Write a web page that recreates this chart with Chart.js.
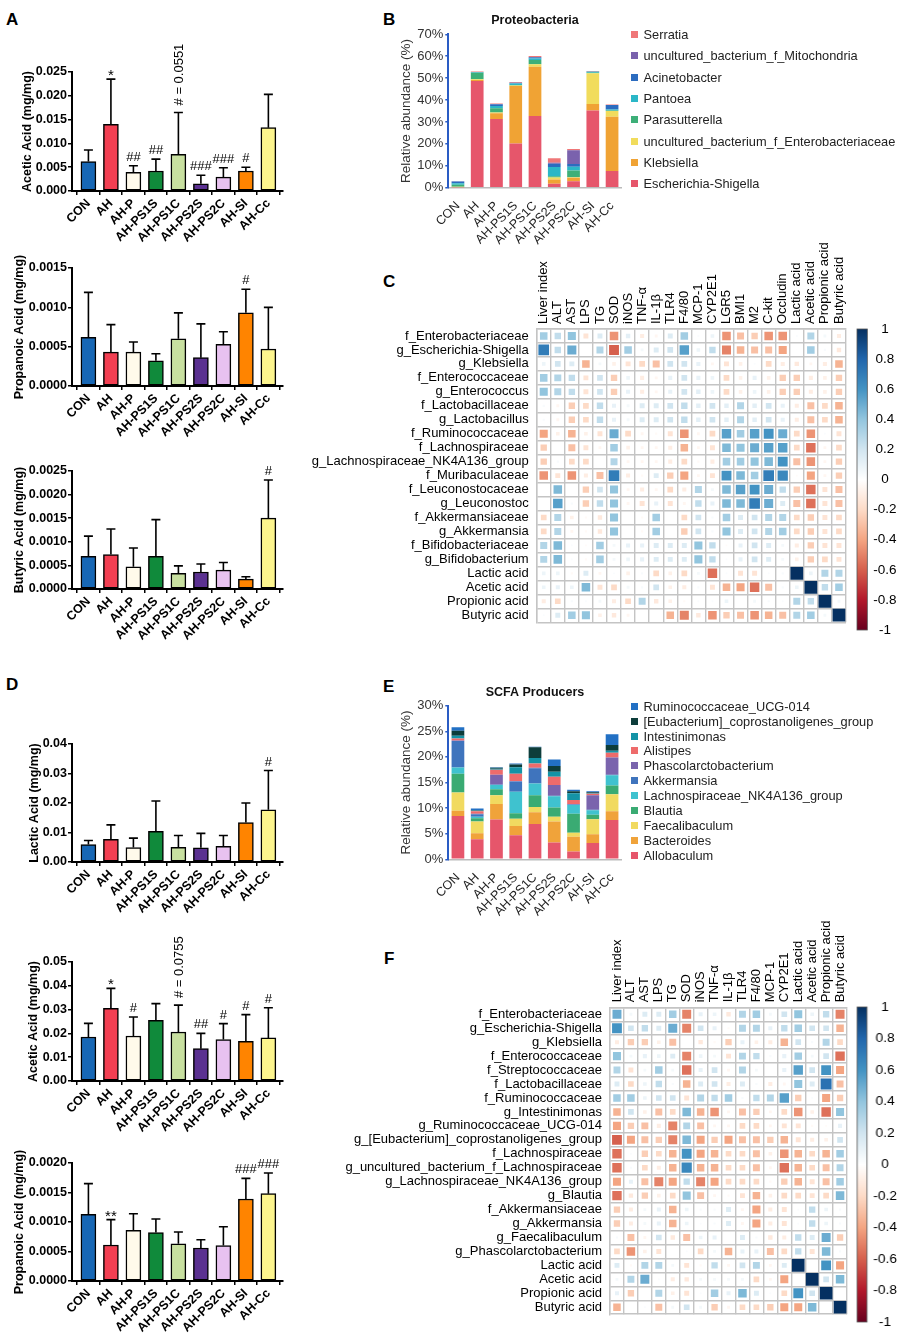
<!DOCTYPE html>
<html><head><meta charset="utf-8">
<script src="https://cdn.jsdelivr.net/npm/chart.js@4.4.1/dist/chart.umd.min.js"></script>
<style>
body{margin:0;background:#fff;}
#page{position:relative;width:899px;height:1339px;overflow:hidden;background:#fff;font-family:"Liberation Sans",Arial,Helvetica,sans-serif;}
canvas{position:absolute;}
.lab{position:absolute;font-weight:bold;font-size:17px;line-height:1;color:#000;}
.leg{position:absolute;font-size:12.8px;line-height:14px;color:#222;white-space:nowrap;}
.leg span{display:inline-block;width:7px;height:7px;margin-right:6px;vertical-align:1px;}
</style></head><body><div id="page"></div>
<script>
// ---------------- DATA ----------------
const groups = ['CON','AH','AH-P','AH-PS1S','AH-PS1C','AH-PS2S','AH-PS2C','AH-SI','AH-Cc'];
const groupColors = ['#1767b5','#f23f52','#fffaeb','#108a3b','#c8e0a0','#5b3191','#e8c2f0','#ff8400','#fdf58e'];

// Panel A
const A_acetic_mean = [0.0062,0.0140,0.0039,0.0042,0.0077,0.0015,0.0029,0.0042,0.0133];
const A_acetic_sd   = [0.0024,0.0095,0.0014,0.0025,0.0088,0.0018,0.0020,0.0008,0.0070];
const A_acetic_notes= ['','*','##','##','# = 0.0551','###','###','#',''];
const A_acetic_ticks= [0,0.005,0.010,0.015,0.020,0.025];

const A_prop_mean = [0.00062,0.00043,0.00043,0.00032,0.00060,0.00036,0.00053,0.00093,0.00047];
const A_prop_sd   = [0.00057,0.00035,0.00013,0.00009,0.00033,0.00043,0.00016,0.00030,0.00053];
const A_prop_notes= ['','','','','','','','#',''];
const A_prop_ticks= [0,0.0005,0.0010,0.0015];

const A_but_mean = [0.00069,0.00073,0.00047,0.00069,0.00033,0.00036,0.00040,0.00021,0.00150];
const A_but_sd   = [0.00043,0.00054,0.00040,0.00078,0.00016,0.00017,0.00016,0.00005,0.00081];
const A_but_notes= ['','','','','','','','','#'];
const A_but_ticks= [0,0.0005,0.0010,0.0015,0.0020,0.0025];

// Panel D
const D_lactic_mean = [0.0059,0.0077,0.0049,0.0104,0.0050,0.0048,0.0053,0.0134,0.0177];
const D_lactic_sd   = [0.0014,0.0049,0.0032,0.0103,0.0040,0.0049,0.0037,0.0066,0.0133];
const D_lactic_notes= ['','','','','','','','','#'];
const D_lactic_ticks= [0,0.01,0.02,0.03,0.04];

const D_acetic_mean = [0.0185,0.0305,0.0189,0.0255,0.0206,0.0136,0.0174,0.0167,0.0181];
const D_acetic_sd   = [0.0057,0.0084,0.0080,0.0070,0.0113,0.0064,0.0067,0.0112,0.0127];
const D_acetic_notes= ['','*','#','','# = 0.0755','##','#','#','#'];
const D_acetic_ticks= [0,0.01,0.02,0.03,0.04,0.05];

const D_prop_mean = [0.00113,0.00061,0.00086,0.00082,0.00063,0.00056,0.00060,0.00139,0.00148];
const D_prop_sd   = [0.00052,0.00043,0.00028,0.00023,0.00020,0.00014,0.00032,0.00035,0.00035];
const D_prop_notes= ['','**','','','','','','###','###'];
const D_prop_ticks= [0,0.0005,0.0010,0.0015,0.0020];

// Panel B (Proteobacteria, % relative abundance, stacked bottom -> top)
const B_Escherichia = [0.2,48.7,31.4,20.2,32.7,1.8,3.0,35.2,7.6];
const B_Klebsiella  = [0.1,0.5,2.6,26.2,22.5,1.9,1.5,3.0,24.8];
const B_uncEntero   = [0.1,0.3,0.3,0.2,1.1,0.9,0.3,14.0,2.6];
const B_Parasutterella = [1.0,3.0,2.0,0.3,2.0,0.6,3.0,0.2,0.2];
const B_Pantoea     = [0.6,0.2,1.0,0.6,0.6,4.2,1.8,0.5,0.5];
const B_Acinetobacter = [0.8,0.1,0.8,0.4,0.6,1.5,1.2,0.1,2.0];
const B_Mito        = [0.1,0.0,0.0,0.0,0.0,0.5,6.3,0.0,0.0];
const B_Serratia    = [0.1,0.2,0.3,0.3,0.6,2.0,0.6,0.3,0.3];
const B_ticks = [0,10,20,30,40,50,60,70];

// Panel E (SCFA producers)
const E_Allobaculum = [8.46,3.9,7.75,4.7,6.9,3.3,1.5,3.2,7.7];
const E_Bacteroides = [1.0,1.2,3.05,1.8,2.3,4.1,2.9,1.7,1.7];
const E_Faecalibaculum = [3.6,2.3,1.7,1.4,1.0,0.9,0.8,2.9,3.3];
const E_Blautia = [3.65,0.6,1.2,1.1,2.3,1.8,3.7,0.9,1.7];
const E_LachnoNK = [1.2,0.3,0.8,4.2,2.3,2.2,1.7,0.9,2.0];
const E_Akkermansia = [5.2,0.5,0.1,2.0,3.0,0.1,0.1,0.1,0.1];
const E_Phascolarcto = [0.1,0.1,1.9,0.1,0.1,2.1,0.1,2.8,3.4];
const E_Alistipes = [0.4,0.5,1.0,1.4,0.8,1.6,0.8,0.3,0.9];
const E_Intestinimonas = [0.5,0.1,0.2,1.3,1.1,1.0,1.3,0.1,0.4];
const E_Eubacterium = [1.0,0.1,0.2,0.5,2.1,1.1,0.4,0.2,1.1];
const E_RumUCG014 = [0.7,0.3,0.1,0.2,0.1,1.3,0.3,0.2,2.1];
const E_ticks = [0,5,10,15,20,25,30];

// Panel C correlation
const C_cols = ['Liver index','ALT','AST','LPS','TG','SOD','iNOS','TNF-α','IL-1β','TLR4','F4/80','MCP-1','CYP2E1','LGR5','BMI1','M2','C-kit','Occludin','Lactic acid','Acetic acid','Propionic acid','Butyric acid'];
const C_rows = ['f_Enterobacteriaceae','g_Escherichia-Shigella','g_Klebsiella','f_Enterococcaceae','g_Enterococcus','f_Lactobacillaceae','g_Lactobacillus','f_Ruminococcaceae','f_Lachnospiraceae','g_Lachnospiraceae_NK4A136_group','f_Muribaculaceae','f_Leuconostocaceae','g_Leuconostoc','f_Akkermansiaceae','g_Akkermansia','f_Bifidobacteriaceae','g_Bifidobacterium','Lactic acid','Acetic acid','Propionic acid','Butyric acid'];
const C_r = [
[0.35,0.25,0.4,-0.15,0.15,-0.45,0.12,-0.1,-0.05,0.15,0.35,0.02,0.08,-0.45,-0.3,-0.25,-0.45,-0.45,0.02,0.3,0.05,-0.1],
[0.7,0.25,0.5,0.0,0.3,-0.6,0.35,0.05,0.15,0.2,0.55,0.08,0.25,-0.5,-0.35,-0.3,-0.3,-0.4,0.01,0.35,0.03,-0.12],
[0.08,0.2,0.15,-0.35,0.05,-0.08,-0.15,-0.2,-0.3,0.2,0.2,0.1,-0.05,-0.15,-0.08,0.02,-0.2,-0.1,-0.12,-0.05,-0.1,-0.35],
[0.35,0.3,0.25,-0.15,0.2,-0.25,0.08,-0.1,-0.05,0.1,0.2,0.1,0.08,-0.2,-0.08,0.1,-0.08,-0.25,-0.25,-0.1,-0.08,-0.25],
[0.4,0.3,0.25,-0.15,0.2,-0.25,0.1,-0.1,-0.05,0.1,0.2,0.12,0.08,-0.2,-0.08,0.08,-0.08,-0.25,-0.25,-0.1,-0.08,-0.25],
[0.03,-0.05,-0.25,-0.2,0.25,0.1,0.05,0.15,0.15,0.2,0.25,0.12,0.2,0.12,0.3,0.12,0.2,0.1,-0.1,-0.3,-0.2,-0.35],
[0.03,-0.05,-0.25,-0.2,0.25,0.1,0.05,0.15,0.15,0.2,0.25,0.12,0.2,0.12,0.3,0.12,0.2,0.1,-0.1,-0.3,-0.2,-0.35],
[-0.4,-0.08,-0.35,-0.08,-0.15,0.5,-0.2,-0.05,-0.03,-0.15,-0.45,-0.05,-0.2,0.55,0.35,0.55,0.6,0.5,-0.2,-0.45,0.02,-0.15],
[-0.25,0.0,-0.3,-0.15,-0.05,0.35,-0.08,-0.05,-0.05,-0.1,-0.35,-0.05,-0.15,0.45,0.4,0.5,0.55,0.55,-0.2,-0.55,-0.05,-0.2],
[-0.25,0.03,-0.2,-0.2,0.0,0.3,-0.05,-0.05,-0.05,-0.1,-0.2,-0.03,-0.1,0.35,0.35,0.4,0.45,0.6,-0.3,-0.45,-0.05,-0.25],
[-0.45,-0.15,-0.45,-0.1,-0.3,0.7,-0.1,-0.03,0.15,-0.25,-0.4,-0.05,-0.15,0.6,0.45,0.35,0.7,0.65,-0.02,-0.4,-0.05,-0.25],
[0.0,0.45,0.0,-0.25,0.2,0.4,-0.05,-0.1,-0.05,-0.2,-0.1,0.3,0.05,0.45,0.55,0.6,0.5,0.25,-0.25,-0.55,-0.15,-0.3],
[0.0,0.55,0.03,-0.25,0.25,0.4,-0.05,-0.15,0.1,-0.15,-0.05,0.25,0.1,0.45,0.45,0.7,0.5,0.15,-0.3,-0.55,-0.15,-0.3],
[-0.2,0.3,-0.08,-0.03,-0.12,0.4,0.0,-0.03,0.35,0.0,-0.2,0.2,0.03,0.35,0.15,0.2,0.3,0.3,-0.2,-0.25,-0.15,-0.2],
[-0.2,0.3,-0.05,-0.03,-0.12,0.4,0.0,-0.03,0.35,0.0,-0.25,0.2,0.03,0.4,0.15,0.2,0.3,0.35,-0.2,-0.25,-0.15,-0.2],
[0.3,0.45,0.02,-0.02,0.35,0.05,0.1,0.1,0.15,0.15,0.15,0.4,0.25,-0.02,0.1,0.2,0.15,0.05,-0.1,-0.25,-0.15,-0.15],
[0.3,0.45,0.02,-0.03,0.35,0.05,0.08,0.1,0.15,0.15,0.15,0.4,0.25,0.02,0.1,0.2,0.15,0.05,-0.08,-0.25,-0.2,-0.15],
[0.08,0.08,-0.03,0.15,-0.05,0.02,-0.08,0.03,-0.2,-0.08,-0.2,0.05,-0.55,0.02,-0.15,-0.15,0.02,0.03,1,0.08,0.3,0.3],
[0.08,0.1,0.08,0.45,-0.15,-0.2,0.05,0.03,0.2,-0.08,-0.1,0.03,-0.15,-0.35,-0.4,-0.55,-0.3,0.03,0.08,1,0.25,0.35],
[-0.1,-0.2,0.03,0.02,0.05,-0.1,-0.2,0.3,-0.12,-0.08,-0.03,0.02,0.02,0.08,0.0,0.05,0.03,0.02,0.3,0.25,1,0.05],
[0.02,0.15,0.35,0.4,-0.08,-0.12,-0.05,0.0,0.0,-0.35,-0.5,-0.12,-0.45,-0.25,-0.3,-0.45,-0.35,-0.3,0.3,0.35,0.05,1]
];

// Panel F correlation
const F_cols = ['Liver index','ALT','AST','LPS','TG','SOD','iNOS','TNF-α','IL-1β','TLR4','F4/80','MCP-1','CYP2E1','Lactic acid','Acetic acid','Propionic acid','Butyric acid'];
const F_rows = ['f_Enterobacteriaceae','g_Escherichia-Shigella','g_Klebsiella','f_Enterococcaceae','f_Streptococcaceae','f_Lactobacillaceae','f_Ruminococcaceae','g_Intestinimonas','g_Ruminococcaceae_UCG-014','g_[Eubacterium]_coprostanoligenes_group','f_Lachnospiraceae','g_uncultured_bacterium_f_Lachnospiraceae','g_Lachnospiraceae_NK4A136_group','g_Blautia','f_Akkermansiaceae','g_Akkermansia','g_Faecalibaculum','g_Phascolarctobacterium','Lactic acid','Acetic acid','Propionic acid','Butyric acid'];
const F_r = [
[0.5,0.05,0.15,0.15,0.35,-0.5,0.1,0.08,-0.12,0.3,0.35,0.05,0.2,0.4,0.08,0.25,-0.5],
[0.6,0.2,0.25,0.15,0.5,-0.5,0.2,0.1,-0.03,0.3,0.3,0.1,0.25,0.35,0.2,0.2,-0.35],
[-0.1,-0.25,-0.25,-0.08,-0.3,0.0,-0.12,-0.03,-0.25,0.1,-0.08,-0.1,-0.35,0.2,0.03,0.3,-0.2],
[0.4,0.05,0.1,0.08,0.15,-0.5,0.08,0.05,-0.15,0.3,0.25,0.03,0.1,0.35,0.05,0.2,-0.55],
[0.3,-0.15,0.05,0.35,0.05,-0.55,0.1,0.2,-0.05,0.3,0.05,0.0,0.1,0.55,0.2,0.6,-0.4],
[0.15,-0.2,0.08,0.25,0.03,-0.35,0.15,0.2,-0.1,0.15,0.03,-0.1,-0.05,0.4,0.15,0.75,-0.3],
[0.35,0.35,0.08,0.2,0.2,-0.15,0.3,0.25,0.35,0.03,0.25,0.3,0.55,-0.25,0.02,-0.4,-0.25],
[-0.35,0.2,-0.08,-0.3,-0.2,0.45,-0.35,-0.45,-0.05,-0.3,-0.25,-0.05,-0.2,-0.45,-0.08,-0.55,0.4],
[-0.4,-0.25,-0.3,-0.1,-0.5,0.3,-0.3,-0.05,-0.05,-0.2,-0.2,-0.05,-0.15,-0.15,-0.03,-0.02,0.1],
[-0.6,-0.4,-0.3,-0.25,-0.5,0.45,-0.4,-0.25,-0.4,-0.3,-0.3,-0.25,-0.35,-0.15,-0.1,-0.08,0.2],
[-0.55,0.02,-0.25,-0.2,-0.35,0.6,-0.4,-0.35,-0.2,-0.2,-0.3,-0.08,-0.45,-0.35,-0.2,-0.35,0.35],
[-0.55,0.03,-0.2,-0.1,-0.35,0.65,-0.35,-0.35,-0.2,-0.2,-0.3,-0.05,-0.55,-0.35,-0.2,-0.3,0.3],
[-0.4,0.1,-0.3,-0.5,-0.4,0.25,-0.5,-0.4,-0.2,-0.2,-0.2,-0.03,-0.25,-0.35,-0.15,-0.3,0.35],
[-0.55,-0.12,-0.25,-0.08,-0.2,0.4,-0.3,-0.05,-0.03,-0.15,-0.35,-0.08,-0.2,-0.2,-0.15,-0.2,0.45],
[-0.25,-0.1,0.05,0.1,-0.35,0.08,0.03,0.03,0.15,-0.05,-0.4,-0.1,-0.15,0.02,0.25,0.08,0.03],
[-0.25,-0.1,0.05,0.1,-0.35,0.08,0.02,0.03,0.15,-0.05,-0.4,-0.1,-0.15,0.02,0.25,0.08,0.03],
[0.03,-0.3,-0.05,0.2,-0.12,-0.3,0.08,0.1,0.0,0.15,0.03,-0.12,-0.1,0.25,0.15,0.5,-0.25],
[-0.2,-0.45,-0.08,-0.15,0.0,0.02,-0.2,0.05,-0.35,0.1,0.1,-0.3,-0.2,0.25,-0.15,0.45,0.03],
[0.15,-0.03,0.3,0.3,0.05,-0.15,-0.03,0.25,-0.05,0.2,0.3,-0.05,0.15,1,0.0,0.6,-0.4],
[0.05,0.3,0.5,0.02,-0.1,-0.12,0.05,0.05,0.05,0.05,-0.2,-0.05,-0.4,0.0,1,0.2,0.45],
[0.1,-0.25,0.0,0.3,-0.08,-0.15,0.02,0.35,0.1,0.45,0.15,0.02,-0.2,0.6,0.2,1,0.0],
[-0.35,0.0,0.02,-0.3,0.05,0.2,0.05,-0.25,-0.05,-0.2,-0.2,-0.25,-0.4,-0.4,0.45,0.0,1]
];
const colorbar_ticks = [1,0.8,0.6,0.4,0.2,0,-0.2,-0.4,-0.6,-0.8,-1];

// ---------------- RENDERING ----------------
const FF = '"Liberation Sans", Arial, Helvetica, sans-serif';
Chart.defaults.font.family = FF;
Chart.defaults.color = '#000';
Chart.defaults.animation = false;
Chart.defaults.responsive = false;
Chart.defaults.events = [];
Chart.defaults.plugins.legend.display = false;
Chart.defaults.plugins.tooltip.enabled = false;

const page = document.getElementById('page');
function addCanvas(x,y,w,h){
  const c=document.createElement('canvas');
  c.width=w;c.height=h;c.style.left=x+'px';c.style.top=y+'px';c.style.width=w+'px';c.style.height=h+'px';
  page.appendChild(c);return c;
}
function addLabel(t,x,y){const d=document.createElement('div');d.className='lab';d.style.left=x+'px';d.style.top=y+'px';d.textContent=t;page.appendChild(d);}

const FONT_B = {size:12.5, weight:'bold'};
function barPanel(o){
  const PT=62, PB=70, W=292, PL=72, PR=283;
  const H = Math.round(PT + (o.bottom-o.top) + PB);
  const cv = addCanvas(0, o.top-PT, W, H);
  const yMax = o.ticks[o.ticks.length-1];
  const errPlugin = {id:'err', afterDatasetsDraw(chart){
    const ctx=chart.ctx, x=chart.scales.x, y=chart.scales.y;
    ctx.save(); ctx.strokeStyle='#000'; ctx.fillStyle='#000'; ctx.lineWidth=1.6;
    o.mean.forEach((m,i)=>{
      const px=x.getPixelForValue(i), y0=y.getPixelForValue(m), y1=y.getPixelForValue(m+o.sd[i]);
      ctx.beginPath(); ctx.moveTo(px,y0); ctx.lineTo(px,y1); ctx.moveTo(px-4.5,y1); ctx.lineTo(px+4.5,y1); ctx.stroke();
      const n=o.notes[i]; if(!n) return;
      if(n.indexOf('=')>=0){
        ctx.save(); ctx.translate(px+1,y1-7); ctx.rotate(-Math.PI/2);
        ctx.font='13px '+FF; ctx.textAlign='left'; ctx.textBaseline='middle'; ctx.fillText(n,0,0); ctx.restore();
      } else if(n[0]==='*'){
        ctx.font='15px '+FF; ctx.textAlign='center'; ctx.textBaseline='alphabetic'; ctx.fillText(n,px,y1+1);
      } else {
        ctx.font='13px '+FF; ctx.textAlign='center'; ctx.textBaseline='alphabetic'; ctx.fillText(n,px,y1-5);
      }
    });
    ctx.restore();
  }};
  new Chart(cv,{type:'bar',
    data:{datasets:[{data:o.mean.map((v,i)=>({x:i,y:v})), backgroundColor:groupColors, borderColor:'#000', borderWidth:1.5, borderSkipped:false, barThickness:15}]},
    options:{
      layout:{padding:{top:PT,right:W-PR,left:0,bottom:0}},
      scales:{
        x:{type:'linear', min:-0.73, max:8.65, offset:false,
           afterBuildTicks:s=>{s.ticks=groups.map((g,i)=>({value:i}));},
           afterFit:s=>{s.height=PB;},
           ticks:{autoSkip:false,minRotation:45,maxRotation:45,callback:v=>groups[v],font:FONT_B,color:'#000',padding:1},
           grid:{drawOnChartArea:false,tickLength:4,color:'#000',lineWidth:1.5},
           border:{color:'#000',width:2}},
        y:{min:0,max:yMax,
           afterBuildTicks:s=>{s.ticks=o.ticks.map(v=>({value:v}));},
           afterFit:s=>{s.width=PL;},
           ticks:{callback:v=>v.toFixed(o.dec),font:FONT_B,color:'#000',padding:1},
           grid:{drawOnChartArea:false,tickLength:4,color:'#000',lineWidth:1.5},
           border:{color:'#000',width:2},
           title:{display:true,text:o.title,font:{size:12.5,weight:'bold'},color:'#000',padding:{top:o.titleX-7.5,bottom:0}}}
      }},
    plugins:[errPlugin]});
}

function stackPanel(o){
  const L=380, W=308, PL=448.3, PR=621.7, H=250;
  const cv = addCanvas(L, o.top, W, H);
  const yMax = o.ticks[o.ticks.length-1];
  const titlePlugin = {id:'ptitle', afterDraw(chart){
    const ctx=chart.ctx, a=chart.chartArea;
    ctx.save(); ctx.font='bold 12.5px '+FF; ctx.fillStyle='#111'; ctx.textAlign='center'; ctx.textBaseline='middle';
    ctx.fillText(o.title,(a.left+a.right)/2,o.titleY-o.top); ctx.restore();
  }};
  new Chart(cv,{type:'bar',
    data:{labels:groups, datasets:o.series.map(s=>({label:s.name,data:s.data,backgroundColor:s.color,borderWidth:0,barPercentage:0.66,categoryPercentage:1}))},
    options:{
      layout:{padding:{top:o.plotTop-o.top,right:W-(PR-L),left:0,bottom:0}},
      scales:{
        x:{stacked:true, afterFit:s=>{s.height=H-(o.plotBottom-o.top);},
           ticks:{autoSkip:false,minRotation:45,maxRotation:45,font:{size:12.5},color:'#222',padding:3},
           grid:{display:false}, border:{color:'#bbbbbb',width:1.5}},
        y:{stacked:true,min:0,max:yMax,
           afterBuildTicks:s=>{s.ticks=o.ticks.map(v=>({value:v}));},
           afterFit:s=>{s.width=PL-L;},
           ticks:{callback:v=>v+'%',font:{size:13},color:'#333',padding:2},
           grid:{drawOnChartArea:false,tickLength:3,color:'#2a5cc4',lineWidth:1.5},
           border:{color:'#2a5cc4',width:2},
           title:{display:true,text:'Relative abundance (%)',font:{size:13.5},color:'#333',padding:{top:18.6,bottom:0}}}
      }},
    plugins:[titlePlugin]});
  // legend (top item = top of stack)
  const items = o.series.slice().reverse();
  items.forEach((s,k)=>{
    const d=document.createElement('div'); d.className='leg';
    d.style.left='630.5px'; d.style.top=(o.legY0+k*o.legDy-7)+'px';
    const sp=document.createElement('span'); sp.style.background=s.color; d.appendChild(sp);
    d.appendChild(document.createTextNode(s.name)); page.appendChild(d);
  });
}

const RDBU = ['#67001F','#B2182B','#D6604D','#F4A582','#FDDBC7','#FFFFFF','#D1E5F0','#92C5DE','#4393C3','#2166AC','#053061'];
function hex2rgb(h){return [parseInt(h.substr(1,2),16),parseInt(h.substr(3,2),16),parseInt(h.substr(5,2),16)];}
function corrColor(v){
  const t=Math.max(0,Math.min(10,(v+1)/2*10)); const i=Math.min(9,Math.floor(t)); const f=t-i;
  const a=hex2rgb(RDBU[i]), b=hex2rgb(RDBU[i+1]);
  return 'rgb('+a.map((c,k)=>Math.round(c+(b[k]-c)*f)).join(',')+')';
}

function heatPanel(o){
  const W=o.cR-o.cL, H=o.cB-o.cT;
  const cv=addCanvas(o.cL,o.cT,W,H);
  const pts=[];
  o.rows.forEach((rn,i)=>o.cols.forEach((cn,j)=>pts.push({x:cn,y:rn,v:o.r[i][j]})));
  const cell=(o.gR-o.gL)/o.cols.length;
  const maxSide=cell-1.6;
  new Chart(cv,{type:'scatter',
    data:{datasets:[{data:pts,pointStyle:'rect',pointBorderWidth:0,
      pointRadius:c=>{const v=c.raw?c.raw.v:0;return maxSide*Math.sqrt(Math.abs(v))/1.41421;},
      pointBackgroundColor:c=>corrColor(c.raw?c.raw.v:0)}]},
    options:{
      layout:{padding:{top:0,left:0,right:o.cR-o.gR,bottom:o.cB-o.gB}},
      scales:{
        x:{type:'category',labels:o.cols,position:'top',offset:true,
           afterFit:s=>{s.height=o.gT-o.cT;},
           grid:{offset:true,color:'#c4c4c4',lineWidth:1.4,drawTicks:false},
           border:{color:'#c4c4c4',width:1.4},
           ticks:{autoSkip:false,minRotation:90,maxRotation:90,font:{size:13},color:'#000',padding:5,labelOffset:15.6}},
        y:{type:'category',labels:o.rows,offset:true,
           afterFit:s=>{s.width=o.gL-o.cL;},
           grid:{offset:true,color:'#c4c4c4',lineWidth:1.4,drawTicks:false},
           border:{color:'#c4c4c4',width:1.4},
           ticks:{autoSkip:false,font:{size:13},color:'#000',padding:8}}
      }}});
  // colour bar
  const x0=o.bL, x1=o.bR;
  const cL=x0-5, cW=899-cL, cT=o.gT-10, cH=o.gB-o.gT+20;
  const bc=addCanvas(cL,cT,cW,cH);
  const gradPlugin={id:'grad',beforeDatasetsDraw(chart){
    const ctx=chart.ctx,a=chart.chartArea,y=chart.scales.y;
    const yt=y.getPixelForValue(1), yb=y.getPixelForValue(-1);
    const g=ctx.createLinearGradient(0,yt,0,yb);
    RDBU.slice().reverse().forEach((c,k)=>g.addColorStop(k/10,c));
    ctx.save(); ctx.fillStyle=g; ctx.fillRect(a.left,yt,a.right-a.left,yb-yt);
    ctx.strokeStyle='#555'; ctx.lineWidth=0.8; ctx.strokeRect(a.left,yt,a.right-a.left,yb-yt); ctx.restore();
  }};
  new Chart(bc,{type:'bar',data:{labels:[''],datasets:[]},
    options:{layout:{padding:{top:10,bottom:10,left:5,right:0}},
      scales:{x:{display:false},
        y:{position:'right',min:-1,max:1,
           afterBuildTicks:s=>{s.ticks=colorbar_ticks.map(v=>({value:v}));},
           afterFit:s=>{s.width=899-x1;},
           grid:{display:false},border:{display:false},
           ticks:{callback:v=>String(Math.round(v*10)/10),font:{size:13.5},color:'#000',padding:-2,crossAlign:'center'}}}},
    plugins:[gradPlugin]});
}

// ---- Panels ----
addLabel('A',6,11); addLabel('B',383,11); addLabel('C',383,273);
addLabel('D',6,676); addLabel('E',383,678); addLabel('F',384,950);

barPanel({top:71.7,bottom:190.7,mean:A_acetic_mean,sd:A_acetic_sd,notes:A_acetic_notes,ticks:A_acetic_ticks,dec:3,title:'Acetic Acid (mg/mg)',titleX:28});
barPanel({top:267.7,bottom:385.7,mean:A_prop_mean,sd:A_prop_sd,notes:A_prop_notes,ticks:A_prop_ticks,dec:4,title:'Propanoic Acid (mg/mg)',titleX:20});
barPanel({top:471,bottom:589,mean:A_but_mean,sd:A_but_sd,notes:A_but_notes,ticks:A_but_ticks,dec:4,title:'Butyric Acid (mg/mg)',titleX:20});
barPanel({top:744,bottom:862.3,mean:D_lactic_mean,sd:D_lactic_sd,notes:D_lactic_notes,ticks:D_lactic_ticks,dec:2,title:'Lactic Acid (mg/mg)',titleX:35});
barPanel({top:961.7,bottom:1080.7,mean:D_acetic_mean,sd:D_acetic_sd,notes:D_acetic_notes,ticks:D_acetic_ticks,dec:2,title:'Acetic Acid (mg/mg)',titleX:34});
barPanel({top:1162.7,bottom:1281,mean:D_prop_mean,sd:D_prop_sd,notes:D_prop_notes,ticks:D_prop_ticks,dec:4,title:'Propanoic Acid (mg/mg)',titleX:20});

stackPanel({top:0,plotTop:34.3,plotBottom:187.7,title:'Proteobacteria',titleY:21,ticks:B_ticks,legY0:35,legDy:21.33,
  series:[
    {name:'Escherichia-Shigella',color:'#e6566b',data:B_Escherichia},
    {name:'Klebsiella',color:'#f0a334',data:B_Klebsiella},
    {name:'uncultured_bacterium_f_Enterobacteriaceae',color:'#f1dc5c',data:B_uncEntero},
    {name:'Parasutterella',color:'#3daf78',data:B_Parasutterella},
    {name:'Pantoea',color:'#2bb7c7',data:B_Pantoea},
    {name:'Acinetobacter',color:'#2c6cbf',data:B_Acinetobacter},
    {name:'uncultured_bacterium_f_Mitochondria',color:'#7a62ad',data:B_Mito},
    {name:'Serratia',color:'#ef7778',data:B_Serratia}
  ]});

stackPanel({top:670,plotTop:705.7,plotBottom:859.3,title:'SCFA Producers',titleY:693,ticks:E_ticks,legY0:706.7,legDy:14.9,
  series:[
    {name:'Allobaculum',color:'#e6566b',data:E_Allobaculum},
    {name:'Bacteroides',color:'#f0a33a',data:E_Bacteroides},
    {name:'Faecalibaculum',color:'#f1da60',data:E_Faecalibaculum},
    {name:'Blautia',color:'#3aab73',data:E_Blautia},
    {name:'Lachnospiraceae_NK4A136_group',color:'#3fc2cf',data:E_LachnoNK},
    {name:'Akkermansia',color:'#3f74bd',data:E_Akkermansia},
    {name:'Phascolarctobacterium',color:'#7a64ad',data:E_Phascolarcto},
    {name:'Alistipes',color:'#ee6b6b',data:E_Alistipes},
    {name:'Intestinimonas',color:'#1493a6',data:E_Intestinimonas},
    {name:'[Eubacterium]_coprostanoligenes_group',color:'#0d3d3b',data:E_Eubacterium},
    {name:'Ruminococcaceae_UCG-014',color:'#2270c4',data:E_RumUCG014}
  ]});

heatPanel({cols:C_cols,rows:C_rows,r:C_r,cL:305,cT:240,cR:855,cB:638,gL:536.7,gR:852.3,gT:329,gB:630,bL:856.7,bR:867.3});
heatPanel({cols:F_cols,rows:F_rows,r:F_r,cL:315,cT:915,cR:856,cB:1330,gL:610,gR:852.7,gT:1007.3,gB:1322.3,bL:857.3,bR:867.7});
</script></body></html>
